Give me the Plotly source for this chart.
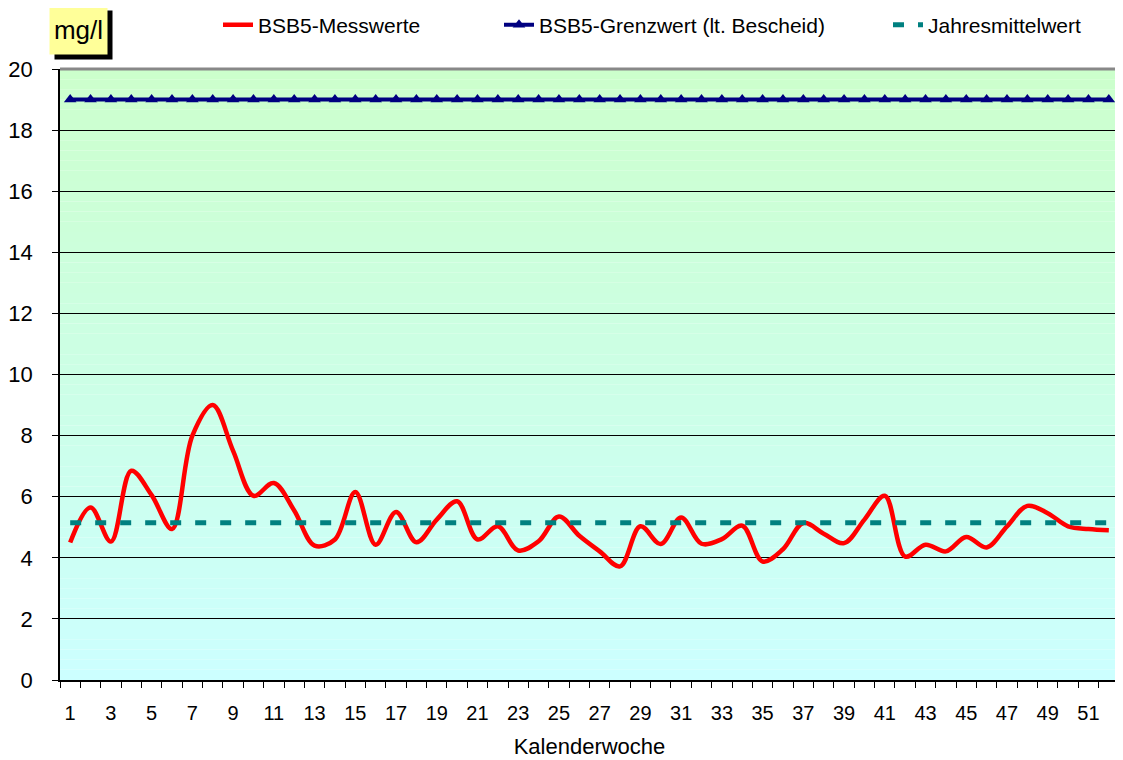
import numpy as np
import plotly.graph_objects as go

weeks = list(range(1, 53))
bsb5_values = [4.5, 5.65, 4.53, 6.85, 6.05, 4.94, 8.0, 9.0, 7.5, 6.03,
               6.45, 5.55, 4.4, 4.6, 6.15, 4.43, 5.5, 4.51, 5.25, 5.85,
               4.6, 5.03, 4.24, 4.54, 5.35, 4.72, 4.21, 3.72, 5.03, 4.45,
               5.32, 4.46, 4.61, 5.05, 3.88, 4.28, 5.14, 4.79, 4.48, 5.25,
               6.03, 4.04, 4.43, 4.21, 4.68, 4.34, 5.03, 5.7, 5.46, 5.03,
               4.94, 4.9]
grenzwert = [19] * 52
jahresmittel = [5.15] * 52
x_ticks = list(range(1, 52, 2))
y_ticks = list(range(0, 21, 2))

FONT = "Liberation Sans, Arial, sans-serif"

# page body has an 8px margin -> figure drawn 8px right/down
OFF = 8
W, H = 1123 - OFF, 760 - OFF
L, T, R, B = 60 - OFF, 69 - OFF, 4, 80
PW = W - L - R
PH = H - T - B

fig = go.Figure()
fig.add_trace(go.Scatter(x=weeks, y=bsb5_values, mode="lines", name="BSB5-Messwerte",
                         legend="legend",
                         line=dict(color="#ff0000", width=4.5, shape="spline", smoothing=1.0)))
fig.add_trace(go.Scatter(x=weeks, y=grenzwert, mode="lines+markers",
                         name="BSB5-Grenzwert (lt. Bescheid)", legend="legend2",
                         line=dict(color="#000080", width=4),
                         marker=dict(symbol="triangle-up", size=11, color="#000080")))
fig.add_trace(go.Scatter(x=weeks, y=jahresmittel, mode="lines", name="Jahresmittelwert",
                         legend="legend3",
                         line=dict(color="#008080", width=5, dash="11px,14px")))

# background gradient (green top -> cyan bottom)
n = 60
shapes = []
for i in range(n):
    t = (i + 0.5) / n  # 0 bottom, 1 top
    b = int(round(255 - 51 * t))
    shapes.append(dict(type="rect", xref="x domain", yref="y domain",
                       x0=0, x1=1, y0=i / n, y1=(i + 1) / n,
                       fillcolor=f"rgb(204,255,{b})", line=dict(width=0), layer="below"))
# gray border top / right
shapes.append(dict(type="line", xref="x domain", yref="y domain", x0=0, x1=1, y0=1, y1=1,
                   line=dict(color="#888888", width=3), layer="above"))
shapes.append(dict(type="line", xref="x domain", yref="y domain", x0=1, x1=1, y0=0, y1=1,
                   line=dict(color="#888888", width=3), layer="above"))


def leg(text_x):
    return dict(orientation="h", xref="container", yref="container",
                x=(text_x - OFF - 42) / W, xanchor="left",
                y=1 - (25 - OFF) / H, yanchor="middle",
                font=dict(size=21, family=FONT), bgcolor="rgba(0,0,0,0)")


def px_x(px):
    return (px - 60) / PW


def px_y(py):
    return 1 + (69 - py) / PH


fig.update_layout(
    width=W, height=H,
    margin=dict(l=L, r=R, t=T, b=B, autoexpand=False),
    paper_bgcolor="white", plot_bgcolor="rgba(0,0,0,0)",
    font=dict(family=FONT, color="black", size=21),
    shapes=shapes,
    showlegend=True,
    legend=leg(260), legend2=leg(541), legend3=leg(930),
    annotations=[
        dict(text=" ", xref="paper", yref="paper", x=px_x(78.5 + 5), y=px_y(30 + 5),
             xanchor="center", yanchor="middle", showarrow=False, width=55, height=46,
             bgcolor="black", font=dict(size=26, color="black")),
        dict(text="mg/l", xref="paper", yref="paper", x=px_x(78.5), y=px_y(30),
             xanchor="center", yanchor="middle", showarrow=False, width=55, height=46,
             bgcolor="#ffff99", font=dict(size=26, color="black", family=FONT)),
    ],
)
fig.update_xaxes(range=[0.5, 52.5], tickvals=x_ticks, ticktext=[str(v) for v in x_ticks],
                 ticks="", showgrid=False, zeroline=False, automargin=False,
                 showline=True, linecolor="black", linewidth=1.5,
                 ticklabelstandoff=14, tickfont=dict(size=20),
                 minor=dict(ticks="outside", tick0=0.5, dtick=1, ticklen=6,
                            tickcolor="black", tickwidth=1, showgrid=False),
                 title=dict(text="Kalenderwoche", font=dict(size=22), standoff=16))
fig.update_yaxes(range=[0, 20], tickvals=y_ticks, ticks="outside", ticklen=6,
                 tickcolor="black", showgrid=True, gridcolor="black", gridwidth=1,
                 zeroline=False, showline=True, linecolor="black", linewidth=1.5,
                 automargin=False,
                 ticklabelstandoff=15, tickfont=dict(size=22))

fig.write_html("out.html")
